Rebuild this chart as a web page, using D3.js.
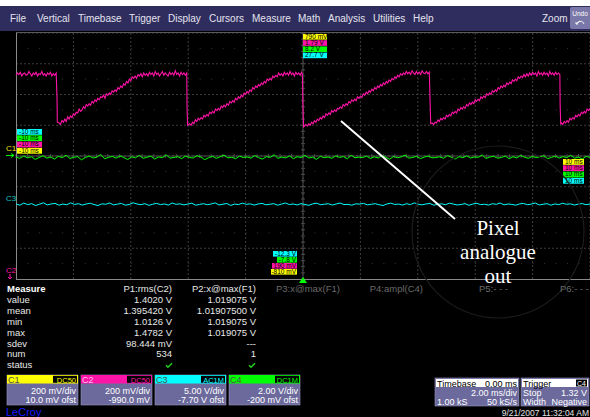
<!DOCTYPE html>
<html><head><meta charset="utf-8">
<script src="https://cdn.jsdelivr.net/npm/d3@7"></script>
<style>
html,body{margin:0;padding:0;background:#fff;overflow:hidden}
svg{display:block}
text{font-family:"Liberation Sans",Arial,sans-serif}
text.ann{font-family:"Liberation Serif","DejaVu Serif",serif}
</style></head><body>
<svg id="c" width="590" height="417"></svg>
<script>
// ---------- DATA ----------
const menuItems = ["File","Vertical","Timebase","Trigger","Display","Cursors","Measure","Math","Analysis","Utilities","Help"];
const menuX = [10,37,78,129,168,209,252,298,328,373,413];

// time axis (ms): 2 ms/div, 10 divisions
const timeDomain = [-10, 10];
// channel vertical settings: V/div and screen-centre voltage
const channels = ["C1","C2","C3","C4"];
const channelColors = {C1:"#ffff00", C2:"#ff14a8", C3:"#00ffff", C4:"#00ff00"};
const voltsPerDiv = {C1:0.2, C2:0.2, C3:5.0, C4:2.0};
const centreVolts = {C1:-0.01, C2:0.99, C3:7.7, C4:0.2};

// C2 (magenta) pixel signal : [time ms, volts]
const c2Wave = [
[-10.0,1.515],[-9.95,1.53],[-9.9,1.52],[-9.85,1.535],[-9.8,1.51],[-9.75,1.525],[-9.7,1.53],[-9.65,1.515],[-9.6,1.52],[-9.55,1.54],[-9.5,1.525],[-9.45,1.51],[-9.4,1.53],[-9.35,1.52],[-9.3,1.535],[-9.25,1.51],[-9.2,1.525],
[-9.15,1.52],[-9.1,1.54],[-9.05,1.515],[-9.0,1.525],[-8.95,1.51],[-8.9,1.53],[-8.85,1.52],[-8.8,1.535],[-8.75,1.51],[-8.7,1.525],[-8.65,1.515],[-8.6,1.53],[-8.57,1.36],[-8.56,1.21],
[-8.5,1.205],[-8.45,1.195],[-8.4,1.22],[-8.35,1.21],[-8.3,1.23],[-8.25,1.215],[-8.2,1.245],[-8.15,1.23],[-8.1,1.25],[-8.05,1.24],[-8.0,1.265],[-7.95,1.255],[-7.9,1.275],[-7.85,1.27],[-7.8,1.295],[-7.75,1.28],[-7.7,1.29],[-7.65,1.31],[-7.6,1.30],
[-7.55,1.325],[-7.5,1.315],[-7.45,1.33],[-7.4,1.32],[-7.35,1.345],[-7.3,1.335],[-7.25,1.355],[-7.2,1.345],[-7.15,1.365],[-7.1,1.355],[-7.05,1.375],[-7.0,1.37],[-6.95,1.385],[-6.9,1.365],[-6.85,1.395],[-6.8,1.385],[-6.75,1.40],[-6.7,1.39],[-6.65,1.415],[-6.6,1.405],
[-6.55,1.42],[-6.5,1.41],[-6.45,1.435],[-6.4,1.425],[-6.35,1.445],[-6.3,1.435],[-6.25,1.46],[-6.2,1.45],[-6.15,1.475],[-6.1,1.465],[-6.05,1.49],[-6.0,1.48],[-5.95,1.505],[-5.9,1.495],[-5.85,1.51],[-5.8,1.495],[-5.75,1.52],[-5.7,1.51],[-5.65,1.525],[-5.6,1.505],
[-5.55,1.53],[-5.5,1.515],[-5.45,1.525],[-5.4,1.51],[-5.35,1.535],[-5.3,1.52],[-5.25,1.53],[-5.2,1.51],[-5.15,1.54],[-5.1,1.52],[-5.05,1.53],[-5.0,1.51],[-4.95,1.525],[-4.9,1.54],[-4.85,1.515],[-4.8,1.53],[-4.75,1.52],[-4.7,1.51],[-4.65,1.535],[-4.6,1.52],
[-4.55,1.53],[-4.5,1.515],[-4.45,1.545],[-4.4,1.52],[-4.35,1.53],[-4.3,1.51],[-4.25,1.535],[-4.2,1.52],[-4.15,1.53],[-4.1,1.515],[-4.05,1.53],[-4.04,1.30],[-4.02,1.19],
[-3.95,1.20],[-3.9,1.19],[-3.85,1.21],[-3.8,1.20],[-3.75,1.225],[-3.7,1.215],[-3.65,1.235],[-3.6,1.225],[-3.55,1.24],[-3.5,1.23],[-3.45,1.255],[-3.4,1.245],[-3.35,1.26],[-3.3,1.25],[-3.25,1.275],[-3.2,1.265],[-3.15,1.28],[-3.1,1.27],[-3.05,1.295],[-3.0,1.285],
[-2.95,1.30],[-2.9,1.29],[-2.85,1.315],[-2.8,1.305],[-2.75,1.32],[-2.7,1.31],[-2.65,1.33],[-2.6,1.32],[-2.55,1.345],[-2.5,1.335],[-2.45,1.35],[-2.4,1.34],[-2.35,1.365],[-2.3,1.355],[-2.25,1.375],[-2.2,1.365],[-2.15,1.385],[-2.1,1.375],[-2.05,1.40],[-2.0,1.39],
[-1.95,1.41],[-1.9,1.40],[-1.85,1.42],[-1.8,1.41],[-1.75,1.435],[-1.7,1.425],[-1.65,1.445],[-1.6,1.435],[-1.55,1.455],[-1.5,1.445],[-1.45,1.465],[-1.4,1.455],[-1.35,1.475],[-1.3,1.465],[-1.25,1.49],[-1.2,1.48],[-1.15,1.495],[-1.1,1.485],[-1.05,1.51],[-1.0,1.50],
[-0.95,1.515],[-0.9,1.505],[-0.85,1.53],[-0.8,1.515],[-0.75,1.525],[-0.7,1.51],[-0.65,1.535],[-0.6,1.52],[-0.55,1.53],[-0.5,1.515],[-0.45,1.54],[-0.4,1.52],[-0.35,1.53],[-0.3,1.51],[-0.25,1.535],[-0.2,1.52],[-0.15,1.53],[-0.1,1.515],[-0.05,1.535],[-0.02,1.52],
[0.0,1.30],[0.02,1.18],
[0.05,1.185],[0.1,1.195],[0.15,1.185],[0.2,1.20],[0.25,1.19],[0.3,1.21],[0.35,1.20],[0.4,1.22],[0.45,1.21],[0.5,1.23],[0.55,1.22],[0.6,1.24],[0.65,1.23],[0.7,1.25],[0.75,1.24],[0.8,1.265],[0.85,1.255],[0.9,1.27],[0.95,1.26],[1.0,1.285],
[1.05,1.275],[1.1,1.29],[1.15,1.28],[1.2,1.30],[1.25,1.295],[1.3,1.31],[1.35,1.30],[1.4,1.325],[1.45,1.315],[1.5,1.33],[1.55,1.32],[1.6,1.345],[1.65,1.335],[1.7,1.355],[1.75,1.345],[1.8,1.36],[1.85,1.35],[1.9,1.375],[1.95,1.365],[2.0,1.38],
[2.05,1.37],[2.1,1.395],[2.15,1.385],[2.2,1.405],[2.25,1.395],[2.3,1.415],[2.35,1.405],[2.4,1.425],[2.45,1.415],[2.5,1.435],[2.55,1.425],[2.6,1.445],[2.65,1.435],[2.7,1.455],[2.75,1.445],[2.8,1.465],[2.85,1.455],[2.9,1.475],[2.95,1.465],[3.0,1.485],
[3.05,1.475],[3.1,1.495],[3.15,1.485],[3.2,1.505],[3.25,1.495],[3.3,1.515],[3.35,1.505],[3.4,1.525],[3.45,1.515],[3.5,1.53],[3.55,1.52],[3.6,1.54],[3.65,1.525],[3.7,1.535],[3.75,1.52],[3.8,1.545],[3.85,1.53],[3.9,1.52],[3.95,1.54],[4.0,1.525],
[4.05,1.535],[4.1,1.52],[4.15,1.545],[4.2,1.53],[4.25,1.525],[4.3,1.54],[4.35,1.525],[4.4,1.535],[4.43,1.33],[4.45,1.20],
[4.5,1.205],[4.55,1.195],[4.6,1.21],[4.65,1.205],[4.7,1.225],[4.75,1.215],[4.8,1.235],[4.85,1.225],[4.9,1.24],[4.95,1.23],[5.0,1.255],[5.05,1.245],[5.1,1.26],[5.15,1.25],[5.2,1.275],[5.25,1.265],[5.3,1.28],[5.35,1.27],[5.4,1.295],[5.45,1.285],
[5.5,1.305],[5.55,1.295],[5.6,1.31],[5.65,1.30],[5.7,1.325],[5.75,1.315],[5.8,1.335],[5.85,1.325],[5.9,1.34],[5.95,1.33],[6.0,1.355],[6.05,1.345],[6.1,1.36],[6.15,1.35],[6.2,1.375],[6.25,1.365],[6.3,1.38],[6.35,1.37],[6.4,1.395],[6.45,1.385],
[6.5,1.40],[6.55,1.39],[6.6,1.415],[6.65,1.405],[6.7,1.42],[6.75,1.41],[6.8,1.435],[6.85,1.425],[6.9,1.445],[6.95,1.435],[7.0,1.45],[7.05,1.44],[7.1,1.465],[7.15,1.455],[7.2,1.47],[7.25,1.46],[7.3,1.485],[7.35,1.475],[7.4,1.49],[7.45,1.48],
[7.5,1.505],[7.55,1.495],[7.6,1.51],[7.65,1.50],[7.7,1.52],[7.75,1.505],[7.8,1.525],[7.85,1.51],[7.9,1.53],[7.95,1.515],[8.0,1.535],[8.05,1.52],[8.1,1.53],[8.15,1.51],[8.2,1.54],[8.25,1.52],[8.3,1.53],[8.35,1.515],[8.4,1.535],[8.45,1.52],
[8.5,1.53],[8.55,1.51],[8.6,1.54],[8.65,1.52],[8.7,1.53],[8.75,1.515],[8.8,1.535],[8.85,1.52],[8.9,1.53],[8.95,1.52],[8.96,1.32],[8.98,1.20],
[9.0,1.205],[9.05,1.195],[9.1,1.215],[9.15,1.205],[9.2,1.22],[9.25,1.21],[9.3,1.235],[9.35,1.225],[9.4,1.24],[9.45,1.23],[9.5,1.255],[9.55,1.245],[9.6,1.26],[9.65,1.25],[9.7,1.275],[9.75,1.265],[9.8,1.28],[9.85,1.27],[9.9,1.295],[9.95,1.285],[10.0,1.30]
];

// C4 (green) samples, volts, evenly spaced across the record
const c4Samples = [0.12,0.05,0.2,0.08,0.15,-0.02,0.1,0.22,0.06,0.14,0.0,0.18,0.09,0.25,0.04,0.12,0.16,-0.05,0.1,0.2,
0.07,0.13,0.3,0.02,0.11,0.17,0.06,0.21,0.1,-0.03,0.15,0.08,0.24,0.05,0.12,0.19,0.0,0.14,0.09,0.27,
0.06,0.11,0.16,0.03,0.2,0.1,0.07,0.22,0.13,-0.04,0.09,0.18,0.05,0.15,0.26,0.08,0.12,0.02,0.19,0.1,
0.14,0.06,0.23,0.09,0.0,0.16,0.11,0.28,0.05,0.13,0.08,0.2,0.03,0.15,0.1,0.24,0.07,0.12,-0.02,0.18,
0.09,0.14,0.05,0.21,0.11,0.16,0.02,0.25,0.08,0.13,0.1,0.19,0.04,0.15,0.07,0.22,0.12,-0.01,0.17,0.09,
0.14,0.26,0.06,0.11,0.18,0.03,0.13,0.2,0.08,0.1,0.15,0.05,0.23,0.12,0.0,0.16,0.09,0.21,0.07,0.14,
0.11,0.27,0.04,0.13,0.18,0.06,0.1,0.2,0.02,0.15,0.08,0.24,0.12,0.05,0.17,0.1,0.14,0.22,0.03,0.11,
0.19,0.07,0.16,0.09,0.25,0.06,0.13,0.0,0.18,0.1];

// C3 (cyan) samples, volts
const c3Samples = [-0.1,-0.3,0.05,-0.2,-0.05,-0.35,-0.15,0.1,-0.25,-0.1,0.0,-0.3,-0.12,-0.22,0.08,-0.18,-0.05,-0.28,-0.1,0.02,
-0.2,-0.35,-0.08,-0.15,0.05,-0.25,-0.12,-0.02,-0.3,-0.18,0.1,-0.1,-0.22,-0.05,-0.32,-0.15,0.0,-0.2,-0.1,-0.28,
0.06,-0.16,-0.08,-0.25,-0.12,0.03,-0.3,-0.18,-0.05,-0.22,-0.1,0.08,-0.26,-0.14,-0.02,-0.34,-0.12,-0.2,0.04,-0.16,
-0.08,-0.28,-0.1,0.0,-0.24,-0.15,-0.05,-0.3,-0.12,0.06,-0.2,-0.1,-0.26,-0.04,-0.18,-0.32,-0.08,0.02,-0.22,-0.14,
-0.06,-0.28,-0.1,0.05,-0.2,-0.16,-0.3,-0.08,-0.12,0.0,-0.25,-0.15,-0.05,-0.22,-0.35,-0.1,0.04,-0.18,-0.12,-0.28,
-0.06,-0.2,0.08,-0.14,-0.24,-0.1,-0.02,-0.3,-0.16,-0.08,-0.22,0.03,-0.12,-0.26,-0.18,-0.05,-0.32,-0.1,0.0,-0.2,
-0.14,-0.28,-0.06,-0.16,0.05,-0.24,-0.1,-0.18,-0.3,-0.08,-0.02,-0.22,-0.12,0.06,-0.26,-0.15,-0.05,-0.3,-0.1,-0.2,
0.02,-0.16,-0.08,-0.28,-0.12,-0.04,-0.22,-0.1];

// on-screen scale labels
const leftDelay = [["C3","-10 ms"],["C4","-10 ms"],["C2","-10 ms"],["C1","-10 ms"]];
const rightDelay = [["C1","10 ms"],["C2","10 ms"],["C4","10 ms"],["C3","10 ms"]];
const topVolts = [["C1","790 mV"],["C2","1.79 V"],["C4","8.2 V"],["C3","27.7 V"]];
const bottomVolts = [["C3","-12.3 V"],["C4","-7.8 V"],["C2","190 mV"],["C1","-810 mV"]];

// measurement table
const measureRows = ["value","mean","min","max","sdev","num","status"];
const p1Values = ["1.4020 V","1.395420 V","1.0126 V","1.4782 V","98.444 mV","534",""];
const p2Values = ["1.019075 V","1.01907500 V","1.019075 V","1.019075 V","---","1",""];
const paramHeaders = ["P1:rms(C2)","P2:x@max(F1)","P3:x@max(F1)","P4:ampl(C4)","P5:- - -","P6:- - -"];

// channel descriptor boxes
const chanCoupling = ["DC50","DC50","AC1M","DC1M"];
const chanScale = ["200 mV/div","200 mV/div","5.00 V/div","2.00 V/div"];
const chanOffset = ["10.0 mV ofst","-990.0 mV","-7.70 V ofst","-200 mV ofst"];

const annotationLines = ["Pixel","analogue","out"];

// ---------- DRAW ----------
const svg = d3.select("#c");
const W = 590, H = 417;
const gx0 = 16, gx1 = 590, gy0 = 33, gy1 = 279;
const x = d3.scaleLinear().domain(timeDomain).range([gx0, gx1]);
const yScale = ch => d3.scaleLinear()
  .domain([centreVolts[ch] - 4*voltsPerDiv[ch], centreVolts[ch] + 4*voltsPerDiv[ch]])
  .range([gy1, gy0]);
const yDiv = d3.scaleLinear().domain([-4,4]).range([gy1, gy0]);

svg.append("rect").attr("width",W).attr("height",H).attr("fill","#000");
svg.append("rect").attr("width",W).attr("height",6).attr("fill","#fff");

// menu bar
svg.append("rect").attr("x",0).attr("y",6).attr("width",W).attr("height",25).attr("fill","#2f2d5e");
svg.selectAll("text.menu").data(menuItems).join("text")
  .attr("x",(d,i)=>menuX[i]).attr("y",22).attr("font-size",10).attr("fill","#e4e4ee").text(d=>d);
svg.append("text").attr("x",542).attr("y",22).attr("font-size",10).attr("fill","#e4e4ee").text("Zoom");
svg.append("rect").attr("x",570).attr("y",7).attr("width",21).attr("height",22).attr("rx",2).attr("fill","#7a78a8");
svg.append("text").attr("x",580).attr("y",16).attr("text-anchor","middle").attr("font-size",6.5).attr("fill","#fff").text("Undo");
svg.append("path").attr("d","M576,24 l4,-3 M576,24 h2 M576,24 v-2 M577,23 q5,-4 7,1").attr("stroke","#fff").attr("fill","none").attr("stroke-width",0.9);

// grid
const grid = svg.append("g");
const xt = d3.range(-10,10.01,2), yt = d3.range(-4,4.01,1);
grid.selectAll("line.v").data(xt.slice(1)).join("line")
  .attr("x1",d=>x(d)).attr("x2",d=>x(d)).attr("y1",gy0).attr("y2",gy1)
  .attr("stroke","#3e3e3e").attr("stroke-dasharray","2,2");
grid.selectAll("line.h").data(yt.slice(1)).join("line")
  .attr("x1",gx0).attr("x2",gx1).attr("y1",d=>yDiv(d)).attr("y2",d=>yDiv(d))
  .attr("stroke","#3e3e3e").attr("stroke-dasharray","2,2");
// half-division dots
d3.range(-3.5,4,1).forEach(v=>{
  grid.append("line").attr("x1",gx0).attr("x2",gx1).attr("y1",yDiv(v)).attr("y2",yDiv(v))
   .attr("stroke","#3a3a3a").attr("stroke-dasharray","1,10.48");
});
// centre axes with minor ticks
grid.append("line").attr("x1",x(0)).attr("x2",x(0)).attr("y1",gy0).attr("y2",gy1).attr("stroke","#4a4a4a");
grid.append("line").attr("x1",gx0).attr("x2",gx1).attr("y1",yDiv(0)).attr("y2",yDiv(0)).attr("stroke","#4a4a4a");
d3.range(-10,10.01,0.4).forEach(t=>grid.append("line").attr("x1",x(t)).attr("x2",x(t)).attr("y1",yDiv(0)-2).attr("y2",yDiv(0)+2).attr("stroke","#4a4a4a"));
d3.range(-4,4.01,0.2).forEach(v=>grid.append("line").attr("x1",x(0)-2).attr("x2",x(0)+2).attr("y1",yDiv(v)).attr("y2",yDiv(v)).attr("stroke","#4a4a4a"));
// frame
grid.append("line").attr("x1",gx0+0.5).attr("x2",gx0+0.5).attr("y1",gy0).attr("y2",gy1).attr("stroke","#8a8a8a");
grid.append("line").attr("x1",gx0).attr("x2",gx1).attr("y1",gy1+0.5).attr("y2",gy1+0.5).attr("stroke","#8a8a8a");
grid.append("line").attr("x1",gx0).attr("x2",gx1).attr("y1",gy0-0.5).attr("y2",gy0-0.5).attr("stroke","#5a5a5a");

// traces
const evenT = n => d3.range(n).map(i => timeDomain[0] + i*(timeDomain[1]-timeDomain[0])/(n-1));
const c4T = evenT(c4Samples.length), c3T = evenT(c3Samples.length);
const yC4 = yScale("C4"), yC3 = yScale("C3"), yC2 = yScale("C2");
svg.append("path").datum(c4Samples.map((v,i)=>[c4T[i],v]))
  .attr("d", d3.line().x(d=>x(d[0])).y(d=>yC4(d[1])))
  .attr("fill","none").attr("stroke",channelColors.C4).attr("stroke-width",1);
svg.append("path").datum(c3Samples.map((v,i)=>[c3T[i],v]))
  .attr("d", d3.line().x(d=>x(d[0])).y(d=>yC3(d[1])))
  .attr("fill","none").attr("stroke",channelColors.C3).attr("stroke-width",1);
svg.append("path").datum(c2Wave)
  .attr("d", d3.line().x(d=>x(d[0])).y(d=>yC2(d[1])))
  .attr("fill","none").attr("stroke",channelColors.C2).attr("stroke-width",1.1);

// channel markers at left
svg.append("text").attr("x",6).attr("y",yScale("C1")(0)-3).attr("font-size",8).attr("fill","#e8e800").text("C1");
svg.append("path").attr("d",`M6,${yScale("C1")(0)+1} h8 l-3,-2 M14,${yScale("C1")(0)+1} l-3,2`).attr("stroke","#00ff00").attr("fill","none");
svg.append("text").attr("x",6).attr("y",yC3(0)-2).attr("font-size",8).attr("fill","#00c8c8").text("C3");
svg.append("text").attr("x",6).attr("y",273).attr("font-size",8).attr("fill",channelColors.C2).text("C2");
svg.append("path").attr("d","M10,274 v5 l-2,-2 M10,279 l2,-2").attr("stroke",channelColors.C2).attr("fill","none");

// small label helper
function tag(g, x0, y0, w, h, col, txt, anchor){
  g.append("rect").attr("x",x0).attr("y",y0).attr("width",w).attr("height",h).attr("fill",col);
  g.append("text").attr("x", anchor==="end"? x0+w-1 : x0+2).attr("y",y0+h-1)
   .attr("text-anchor",anchor||"start").attr("font-size",6.5).attr("fill","#000").text(txt);
}
const tg = svg.append("g");
leftDelay.forEach((d,i)=>tag(tg,17,129+i*6.3,25,5.8,channelColors[d[0]],d[1]));
rightDelay.forEach((d,i)=>tag(tg,563,159+i*6.3,21,5.8,channelColors[d[0]],d[1]));
topVolts.forEach((d,i)=>tag(tg,303,34+i*6.2,24,5.6,channelColors[d[0]],d[1]));
const bw = [24,20,25,26];
bottomVolts.forEach((d,i)=>tag(tg,297-bw[i],251+i*6,bw[i],5.6,channelColors[d[0]],d[1],"end"));
// trigger position marker
svg.append("path").attr("d",`M${x(0)-4},283 L${x(0)+4},283 L${x(0)},277 Z`).attr("fill","#00ff00");

// annotation
svg.append("circle").attr("cx",498).attr("cy",232).attr("r",86).attr("fill","none").attr("stroke","#1c1c1c").attr("stroke-width",1.2);
svg.append("line").attr("x1",341).attr("y1",121).attr("x2",455).attr("y2",219).attr("stroke","#fff").attr("stroke-width",2);
svg.selectAll("text.ann").data(annotationLines).join("text").attr("class","ann")
  .attr("x",498).attr("y",(d,i)=>235+i*24).attr("text-anchor","middle")
  .attr("font-size",21).attr("fill","#fff").text(d=>d);

// measure table
const mt = svg.append("g").attr("font-size",9.5);
const rowY = i => 292 + i*10.9;
mt.append("text").attr("x",7).attr("y",rowY(0)).attr("font-weight","bold").attr("fill","#fff").text("Measure");
measureRows.forEach((r,i)=>mt.append("text").attr("x",7).attr("y",rowY(i+1)).attr("fill","#e8e8e8").text(r));
mt.append("text").attr("x",172).attr("y",rowY(0)).attr("text-anchor","end").attr("fill","#e8e8e8").text(paramHeaders[0]);
mt.append("text").attr("x",256).attr("y",rowY(0)).attr("text-anchor","end").attr("fill","#e8e8e8").text(paramHeaders[1]);
p1Values.forEach((v,i)=>mt.append("text").attr("x",172).attr("y",rowY(i+1)).attr("text-anchor","end").attr("fill","#e8e8e8").text(v));
p2Values.forEach((v,i)=>mt.append("text").attr("x",256).attr("y",rowY(i+1)).attr("text-anchor","end").attr("fill","#e8e8e8").text(v));
[[340,2],[423,3],[508,4],[589,5]].forEach(p=>mt.append("text").attr("x",p[0]).attr("y",rowY(0)).attr("text-anchor","end").attr("fill","#6a6a6a").text(paramHeaders[p[1]]));
[169,252].forEach(cx=>svg.append("path").attr("d",`M${cx-3},${rowY(7)-3} l2,2 l4,-4`).attr("stroke","#20d020").attr("stroke-width",1.5).attr("fill","none"));

// channel descriptor boxes
const cb = svg.append("g");
channels.forEach((ch,i)=>{
  const bx = 7 + i*74, by = 375;
  cb.append("rect").attr("x",bx).attr("y",by).attr("width",71).attr("height",30).attr("fill","#6c6a9c").attr("stroke","#9896c4").attr("stroke-width",0.6);
  cb.append("rect").attr("x",bx).attr("y",by).attr("width",71).attr("height",8.5).attr("fill",channelColors[ch]);
  cb.append("text").attr("x",bx+1).attr("y",by+8).attr("font-size",9).attr("fill",ch==="C1"||ch==="C3"||ch==="C4"?"#505050":"#ffc0e8").text(ch);
  cb.append("rect").attr("x",bx+46).attr("y",by+0.8).attr("width",24).attr("height",7).attr("fill","#000");
  cb.append("text").attr("x",bx+69).attr("y",by+7.5).attr("text-anchor","end").attr("font-size",7.5).attr("fill",channelColors[ch]).text(chanCoupling[i]);
  cb.append("text").attr("x",bx+69).attr("y",by+19).attr("text-anchor","end").attr("font-size",9).attr("fill","#fff").text(chanScale[i]);
  cb.append("text").attr("x",bx+69).attr("y",by+28).attr("text-anchor","end").attr("font-size",9).attr("fill","#fff").text(chanOffset[i]);
});
svg.append("text").attr("x",6).attr("y",416).attr("font-size",11).attr("fill","#1818ff").text("LeCroy");

// timebase / trigger boxes
function infoBox(bx, w, head, headRight, rows, headRightBox){
  const by = 378;
  cb.append("rect").attr("x",bx).attr("y",by).attr("width",w).attr("height",28).attr("fill","#6c6a9c").attr("stroke","#9896c4").attr("stroke-width",0.6);
  cb.append("rect").attr("x",bx+1).attr("y",by+1).attr("width",w-2).attr("height",8).attr("fill","#fff");
  cb.append("text").attr("x",bx+2).attr("y",by+8.5).attr("font-size",9).attr("fill","#000").text(head);
  if(headRightBox){
    cb.append("rect").attr("x",bx+w-13).attr("y",by+1.5).attr("width",11).attr("height",7).attr("fill","#000");
    cb.append("text").attr("x",bx+w-3).attr("y",by+8).attr("text-anchor","end").attr("font-size",7).attr("fill","#fff").text(headRight);
  } else {
    cb.append("text").attr("x",bx+w-2).attr("y",by+8.5).attr("text-anchor","end").attr("font-size",9).attr("fill","#000").text(headRight);
  }
  rows.forEach((r,i)=>{
    if(r[0]) cb.append("text").attr("x",bx+2).attr("y",by+18+i*9).attr("font-size",9).attr("fill","#fff").text(r[0]);
    cb.append("text").attr("x",bx+w-2).attr("y",by+18+i*9).attr("text-anchor","end").attr("font-size",9).attr("fill","#fff").text(r[1]);
  });
}
infoBox(435, 84, "Timebase", "0.00 ms", [["","2.00 ms/div"],["1.00 kS","50 kS/s"]], false);
infoBox(521, 68, "Trigger", "C4", [["Stop","1.32 V"],["Width","Negative"]], true);
svg.append("text").attr("x",589).attr("y",416).attr("text-anchor","end").attr("font-size",8.5).attr("fill","#e0e0e0").text("9/21/2007 11:32:04 AM");
</script>
</body></html>
